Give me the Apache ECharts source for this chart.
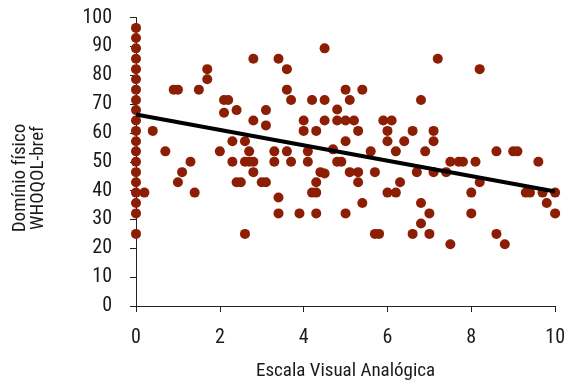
<!DOCTYPE html>
<html>
<head>
<meta charset="utf-8">
<script src="https://cdn.jsdelivr.net/npm/echarts@6/dist/echarts.min.js"></script>
<style>
  html, body { margin: 0; padding: 0; background: #fff; }
  #chart { width: 568px; height: 386px; }
</style>
</head>
<body>
<div id="chart"></div>
<script>
// EVA (x) e Domínio físico WHOQOL-bref (y)
const eva = [
  0, 0, 0, 0, 0, 0, 0, 0, 0, 0, 0, 0, 0, 0, 0, 0, 0, 0, 0, 0,
  0.2, 0.4, 0.7, 0.9, 1.0, 1.0, 1.1, 1.3, 1.4, 1.5, 1.7, 1.7,
  2.0, 2.1, 2.2, 2.1, 2.3, 2.3, 2.4, 2.4, 2.5, 2.6, 2.6, 2.7, 2.8, 2.7, 2.6,
  2.8, 2.8, 2.8, 3.0, 3.1, 3.1, 3.1, 3.3, 3.6, 3.3, 3.4, 3.4, 3.4,
  3.6, 3.6, 3.7, 3.7, 3.9, 4.0, 4.0, 4.1, 4.1, 4.2, 4.2, 4.3, 4.3, 4.3, 4.3,
  4.4, 4.5, 4.5, 4.5, 4.5, 4.7, 4.8, 4.8, 4.8, 4.9, 5.0, 5.0, 5.0, 5.0,
  5.1, 5.1, 5.2, 5.3, 5.3, 5.3, 5.4, 5.4, 5.6, 5.7, 5.7, 5.8,
  5.9, 6.0, 6.0, 6.0, 6.1, 6.2, 6.2, 6.3, 6.4, 6.6, 6.6, 6.7, 6.8, 6.8, 6.8,
  6.9, 7.0, 7.0, 7.1, 7.1, 7.1, 7.2, 7.4, 7.5, 7.5, 7.7, 7.8,
  8.0, 8.0, 8.1, 8.2, 8.2, 8.6, 8.6, 8.8, 9.0, 9.1, 9.3, 9.4, 9.6, 9.7, 9.8, 10, 10
];
const dominioFisico = [
  96.4, 92.9, 89.3, 85.7, 82.1, 78.6, 75, 71.4, 67.9, 64.3, 60.7, 57.1, 53.6, 50, 46.4, 42.9, 39.3, 35.7, 32.1, 25,
  39.3, 60.7, 53.6, 75, 75, 42.9, 46.4, 50, 39.3, 75, 82.1, 78.6,
  53.6, 71.4, 71.4, 67, 57.1, 50, 67.9, 42.9, 42.9, 57.1, 50, 50, 50, 53.6, 25,
  85.7, 64.3, 46.4, 42.9, 42.9, 67.9, 62.6, 53.6, 53.6, 50, 85.7, 37.6, 32.1,
  82.1, 75, 71.4, 50, 32.1, 64.3, 60.7, 53.6, 50, 71.4, 39.3, 39.3, 60.7, 42.9, 32.1,
  46.4, 45.9, 89.3, 71.4, 64.3, 54.3, 68.1, 64.3, 50, 50, 64.3, 75, 57.1, 32.1,
  71.4, 46.4, 64.3, 60.7, 46.4, 42.9, 75, 35.7, 53.6, 46.4, 25, 25,
  64.3, 60.7, 57.1, 39.3, 64.3, 53.6, 39.3, 42.9, 57.1, 60.7, 25, 46.4, 71.4, 35.7, 28.6,
  53.6, 32.1, 25, 60.7, 57.1, 46.4, 85.7, 46.4, 50, 21.4, 50, 50,
  39.3, 32.1, 50, 82.1, 42.9, 53.6, 25, 21.4, 53.6, 53.6, 39.3, 39.3, 50, 39.3, 35.7, 39.3, 32.1
];
// reta de regressão
const retaX = [0, 10];
const retaY = [66.4, 39.7];

const fonte = "'Liberation Sans Narrow', 'Roboto Condensed', 'DejaVu Sans Condensed', 'DejaVu Sans', sans-serif";
// estreita o texto (a fonte do original é condensada)
const peso = 'condensed';
const corTexto = '#1a1a1a';
const corEixo = '#222';

const chart = echarts.init(document.getElementById('chart'));

chart.setOption({
  animation: false,
  grid: { left: 136, right: 10, top: 17.5, bottom: 78.5 },
  xAxis: {
    type: 'value',
    min: 0,
    max: 10,
    interval: 2,
    name: 'Escala Visual Analógica',
    nameLocation: 'middle',
    nameGap: 56,
    nameTextStyle: { color: corTexto, fontFamily: fonte, fontWeight: peso, fontSize: 19 },
    axisLine: { show: true, lineStyle: { color: corEixo, width: 1 } },
    axisTick: { show: true, length: 6, lineStyle: { color: corEixo } },
    axisLabel: { color: corTexto, fontFamily: fonte, fontWeight: peso, fontSize: 20, margin: 22 },
    splitLine: { show: false },
  },
  yAxis: {
    type: 'value',
    min: 0,
    max: 100,
    interval: 10,
    axisLine: { show: true, lineStyle: { color: corEixo, width: 1 } },
    axisTick: { show: true, length: 6, lineStyle: { color: corEixo } },
    axisLabel: { color: corTexto, fontFamily: fonte, fontWeight: peso, fontSize: 20, margin: 24 },
    splitLine: { show: false },
  },
  graphic: [
    {
      type: 'text',
      x: 29,
      y: 178,
      rotation: Math.PI / 2,
      style: {
        text: 'Domínio físico\nWHOQOL-bref',
        fill: corTexto,
        font: 'normal condensed 19px ' + fonte,
        align: 'center',
        verticalAlign: 'middle',
        lineHeight: 18,
      },
    },
  ],
  series: [
    {
      type: 'scatter',
      data: eva.map((x, i) => [x, dominioFisico[i]]),
      symbolSize: 10,
      itemStyle: { color: '#8b1e04', opacity: 1 },
      z: 2,
    },
    {
      type: 'line',
      data: retaX.map((x, i) => [x, retaY[i]]),
      symbol: 'none',
      lineStyle: { color: '#000', width: 4 },
      z: 3,
    },
  ],
});
</script>
</body>
</html>
